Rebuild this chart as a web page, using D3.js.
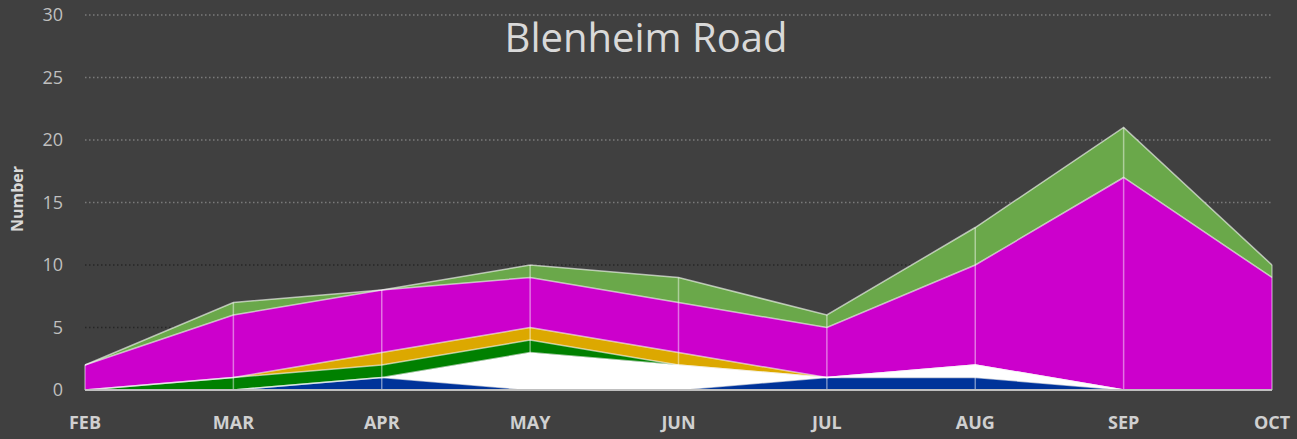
<!DOCTYPE html>
<html>
<head>
<meta charset="utf-8">
<script src="https://cdn.jsdelivr.net/npm/d3@7"></script>
<style>
  body { margin: 0; background: #404040; }
  svg { display: block; }
</style>
</head>
<body>
<svg id="chart"></svg>
<script>
// monthly counts (stacked bottom -> top)
let months = ["FEB", "MAR", "APR", "MAY", "JUN", "JUL", "AUG", "SEP", "OCT"]
let blueVals    = [0, 0, 1, 0, 0, 1, 1, 0, 0]
let whiteVals   = [0, 0, 0, 3, 2, 0, 1, 0, 0]
let greenVals   = [0, 1, 1, 1, 0, 0, 0, 0, 0]
let goldVals    = [0, 0, 1, 1, 1, 0, 0, 0, 0]
let magentaVals = [2, 5, 5, 4, 4, 4, 8, 17, 9]
let limeVals    = [0, 1, 0, 1, 2, 1, 3, 4, 1]
let yTicks = [0, 5, 10, 15, 20, 25, 30]

let seriesKeys = ["blue", "white", "green", "gold", "magenta", "lime"]
let seriesColors = ["#003399", "#ffffff", "#008000", "#dca800", "#cc00cc", "#6aa84a"]

let W = 1297, H = 439
let margin = {top: 15, right: 25, bottom: 49, left: 85}

let svg = d3.select("#chart")
  .attr("width", W)
  .attr("height", H)

let rows = months.map((m, i) => ({
  month: m,
  blue: blueVals[i],
  white: whiteVals[i],
  green: greenVals[i],
  gold: goldVals[i],
  magenta: magentaVals[i],
  lime: limeVals[i]
}))

var x = d3.scalePoint()
  .domain(months)
  .range([margin.left, W - margin.right])

var y = d3.scaleLinear()
  .domain([0, 30])
  .range([H - margin.bottom, margin.top])

let stacked = d3.stack().keys(seriesKeys)(rows)

// gridlines (the lower ones render darker in the original)
svg.append("g")
  .selectAll("line")
  .data(yTicks.filter(d => d > 0))
  .join("line")
  .attr("x1", x.range()[0])
  .attr("x2", x.range()[1])
  .attr("y1", d => y(d))
  .attr("y2", d => y(d))
  .attr("stroke", d => d >= 15 ? "#7a7a7a" : "#262626")
  .attr("stroke-width", 1.5)
  .attr("stroke-dasharray", "1.5,2.5")

let area = d3.area()
  .x(d => x(d.data.month))
  .y0(d => y(d[0]))
  .y1(d => y(d[1]))

let topLine = d3.line()
  .x(d => x(d.data.month))
  .y(d => y(d[1]))

svg.append("g")
  .selectAll("path")
  .data(stacked)
  .join("path")
  .attr("fill", (d, i) => seriesColors[i])
  .attr("d", area)

svg.append("g")
  .selectAll("path")
  .data(stacked)
  .join("path")
  .attr("fill", "none")
  .attr("stroke", "#ffffff")
  .attr("stroke-opacity", 0.6)
  .attr("stroke-width", 1.5)
  .attr("d", topLine)

// drop lines at each month
let totals = rows.map(r => d3.sum(seriesKeys, k => r[k]))
svg.append("g")
  .selectAll("line")
  .data(months)
  .join("line")
  .attr("x1", d => x(d))
  .attr("x2", d => x(d))
  .attr("y1", y(0))
  .attr("y2", (d, i) => y(totals[i]))
  .attr("stroke", "#ffffff")
  .attr("stroke-opacity", 0.45)
  .attr("stroke-width", 1.5)

// base axis line
svg.append("line")
  .attr("x1", x.range()[0])
  .attr("x2", x.range()[1])
  .attr("y1", y(0))
  .attr("y2", y(0))
  .attr("stroke", "#bfbfbf")
  .attr("stroke-width", 2)

// y tick labels
svg.append("g")
  .selectAll("text")
  .data(yTicks)
  .join("text")
  .attr("x", 63)
  .attr("y", d => y(d))
  .attr("dy", "0.35em")
  .attr("text-anchor", "end")
  .attr("fill", "#bfbfbf")
  .style("font", "18px 'Open Sans', sans-serif")
  .text(d => d)

// x labels
svg.append("g")
  .selectAll("text")
  .data(months)
  .join("text")
  .attr("x", d => x(d))
  .attr("y", 429)
  .attr("text-anchor", "middle")
  .attr("fill", "#d0d0d0")
  .style("font", "bold 18px 'Open Sans', sans-serif")
  .text(d => d)

svg.append("text")
  .attr("transform", "translate(23,199) rotate(-90)")
  .attr("text-anchor", "middle")
  .attr("fill", "#d9d9d9")
  .style("font", "bold 16px 'Open Sans', sans-serif")
  .text("Number")

svg.append("text")
  .attr("x", 646)
  .attr("y", 52)
  .attr("text-anchor", "middle")
  .attr("fill", "#d9d9d9")
  .style("font", "40px 'Open Sans', sans-serif")
  .text("Blenheim Road")
</script>
</body>
</html>
